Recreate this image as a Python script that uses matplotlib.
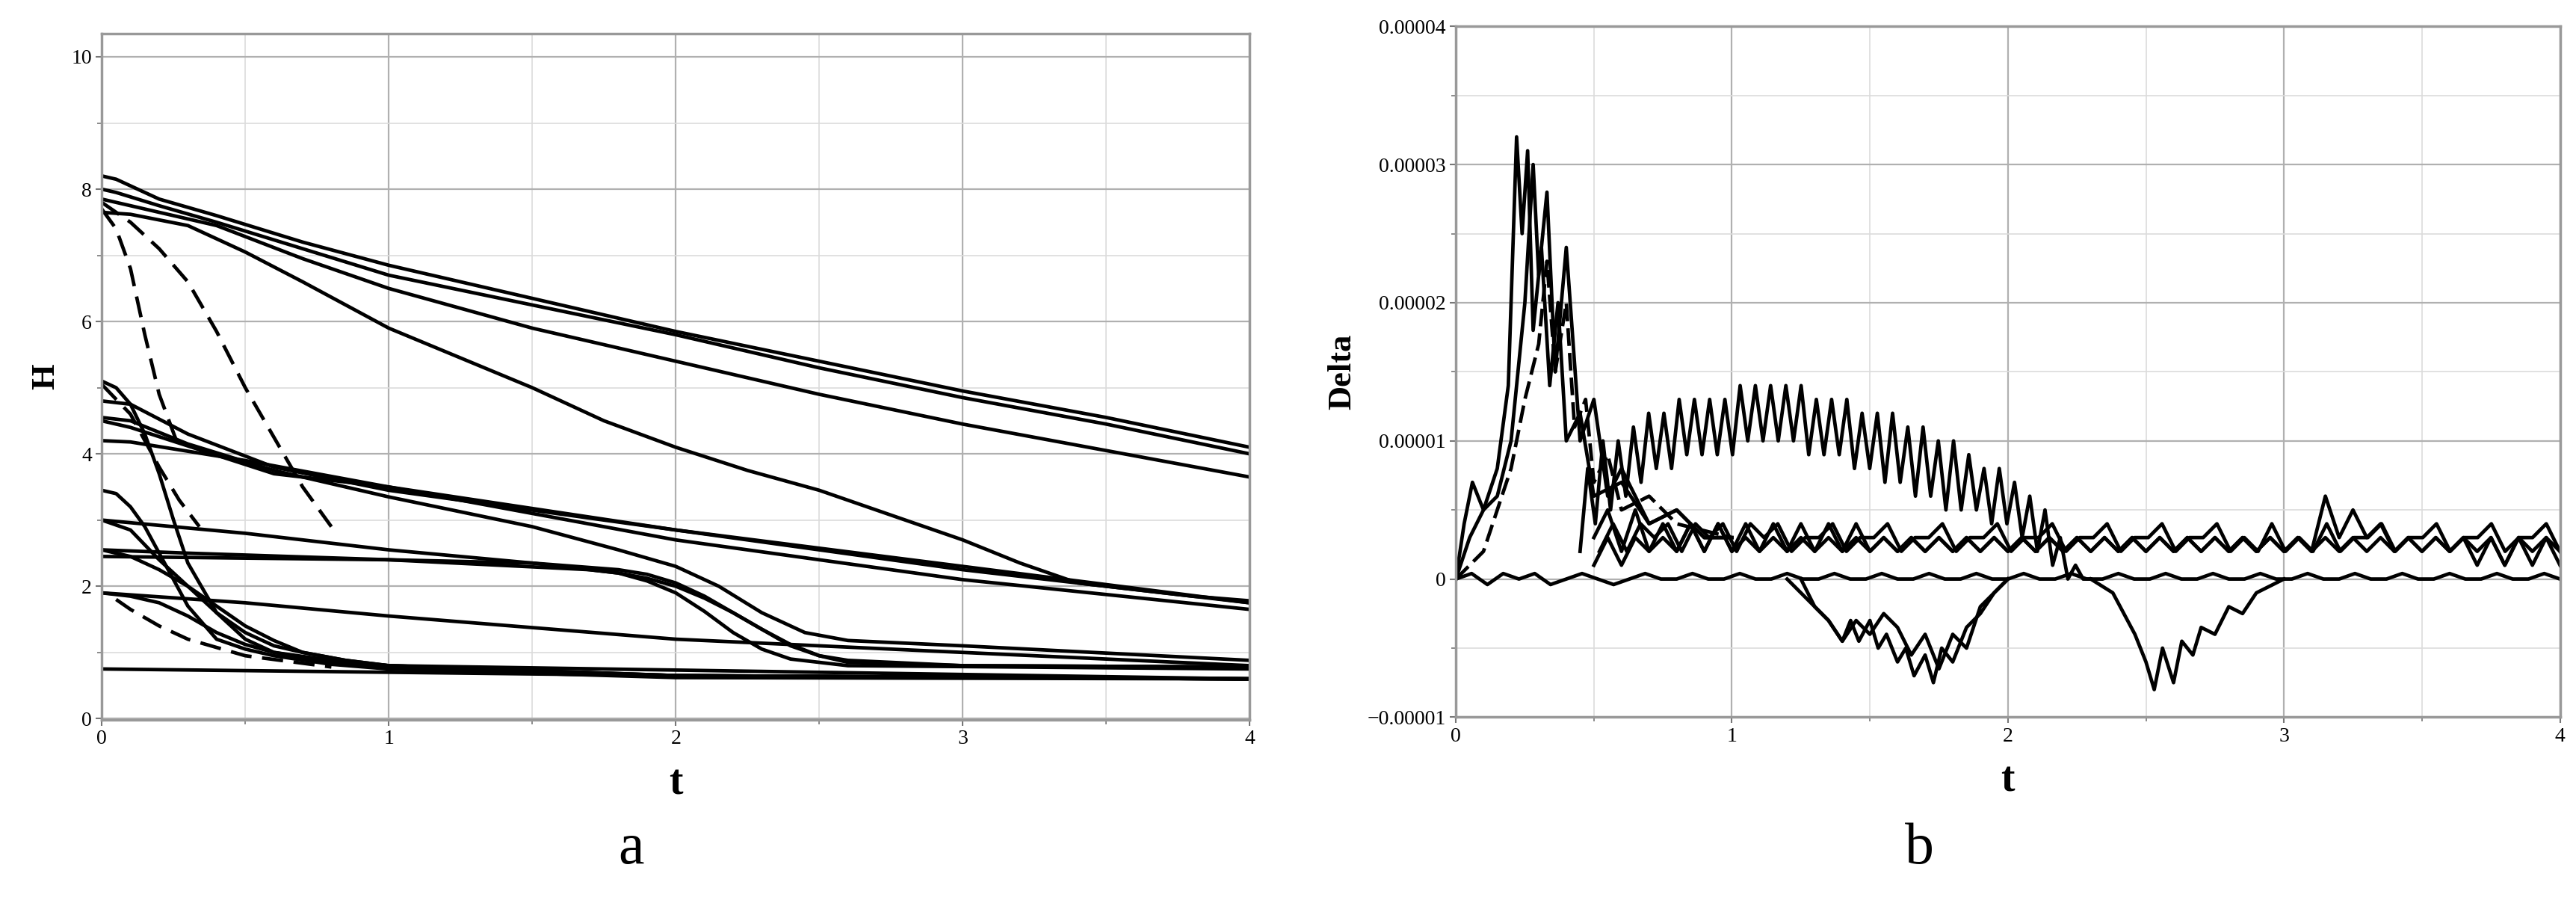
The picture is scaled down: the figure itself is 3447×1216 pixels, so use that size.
import numpy as np
import matplotlib
matplotlib.use("Agg")
import matplotlib.pyplot as plt
from matplotlib.ticker import FuncFormatter, MultipleLocator

# ---------- Panel a: H(t) curves (t, H) ----------
solid_curves = [
    ([0, 0.05, 0.2, 0.4, 0.7, 1, 1.5, 2, 2.5, 3, 3.5, 4], [8.2, 8.15, 7.85, 7.6, 7.2, 6.85, 6.35, 5.85, 5.4, 4.95, 4.55, 4.1]),
    ([0, 0.05, 0.2, 0.4, 0.7, 1, 1.5, 2, 2.5, 3, 3.5, 4], [8.0, 7.95, 7.75, 7.5, 7.1, 6.7, 6.25, 5.8, 5.3, 4.85, 4.45, 4.0]),
    ([0, 0.05, 0.2, 0.4, 0.7, 1, 1.5, 2, 2.5, 3, 3.5, 4], [7.85, 7.8, 7.65, 7.45, 6.95, 6.5, 5.9, 5.4, 4.9, 4.45, 4.05, 3.65]),
    ([0, 0.1, 0.3, 0.5, 0.7, 1, 1.25, 1.5, 1.75, 2, 2.25, 2.5, 2.8, 3.0, 3.2, 3.4, 3.6, 3.8, 4],
     [7.65, 7.62, 7.45, 7.05, 6.6, 5.9, 5.45, 5.0, 4.5, 4.1, 3.75, 3.45, 3.0, 2.7, 2.35, 2.05, 1.95, 1.85, 1.78]),
    ([0, 0.05, 0.1, 0.15, 0.2, 0.25, 0.3, 0.4, 0.5, 0.6, 0.8, 1, 2, 4], [5.1, 5.0, 4.75, 4.3, 3.7, 3.0, 2.35, 1.6, 1.2, 1.0, 0.88, 0.8, 0.65, 0.6]),
    ([0, 0.1, 0.3, 0.6, 1, 2, 3, 4], [4.8, 4.75, 4.3, 3.8, 3.45, 2.85, 2.3, 1.75]),
    ([0, 0.1, 0.3, 0.6, 1, 1.5, 1.8, 2.0, 2.15, 2.3, 2.45, 2.6, 3, 4],
     [4.55, 4.5, 4.15, 3.75, 3.35, 2.9, 2.55, 2.3, 2.0, 1.6, 1.3, 1.18, 1.1, 0.88]),
    ([0, 0.1, 0.6, 1, 2, 3, 4], [4.5, 4.4, 3.7, 3.5, 2.7, 2.1, 1.65]),
    ([0, 0.1, 0.5, 1, 2, 3, 4], [4.2, 4.18, 3.9, 3.5, 2.85, 2.25, 1.75]),
    ([0, 0.05, 0.1, 0.15, 0.2, 0.25, 0.3, 0.4, 0.5, 0.6, 0.8, 1, 2, 4], [3.45, 3.4, 3.2, 2.9, 2.5, 2.1, 1.7, 1.2, 1.05, 0.95, 0.82, 0.75, 0.62, 0.6]),
    ([0, 0.5, 1, 1.5, 1.8, 1.9, 2.0, 2.1, 2.2, 2.3, 2.4, 2.5, 2.6, 3, 4],
     [3.0, 2.8, 2.55, 2.35, 2.2, 2.12, 2.0, 1.82, 1.6, 1.35, 1.12, 0.95, 0.88, 0.8, 0.78]),
    ([0, 0.3, 1, 1.5, 1.8, 1.9, 2.0, 2.1, 2.2, 2.3, 2.4, 2.5, 2.6, 3, 4],
     [2.55, 2.5, 2.4, 2.35, 2.25, 2.18, 2.05, 1.85, 1.6, 1.35, 1.1, 0.95, 0.85, 0.8, 0.78]),
    ([0, 1, 1.7, 1.8, 1.9, 2.0, 2.1, 2.2, 2.3, 2.4, 2.6, 4], [2.45, 2.4, 2.25, 2.2, 2.08, 1.9, 1.62, 1.3, 1.05, 0.9, 0.8, 0.75]),
    ([0, 0.1, 0.2, 0.3, 0.4, 0.5, 0.6, 0.7, 0.85, 1, 2, 4], [2.55, 2.45, 2.25, 2.0, 1.7, 1.4, 1.18, 1.0, 0.88, 0.8, 0.65, 0.6]),
    ([0, 0.1, 0.2, 0.3, 0.4, 0.5, 0.6, 0.7, 0.85, 1, 4], [3.0, 2.85, 2.4, 2.0, 1.6, 1.3, 1.1, 1.0, 0.88, 0.8, 0.6]),
    ([0, 0.5, 1, 2, 3, 4], [1.9, 1.75, 1.55, 1.2, 1.0, 0.8]),
    ([0, 0.1, 0.2, 0.3, 0.4, 0.5, 0.6, 0.8, 1, 2, 4], [1.9, 1.85, 1.75, 1.55, 1.3, 1.12, 1.0, 0.85, 0.78, 0.65, 0.6]),
    ([0, 2, 4], [0.75, 0.65, 0.6]),
]
dashed_curves = [
    ([0, 0.05, 0.1, 0.15, 0.2, 0.26], [7.7, 7.4, 6.8, 5.8, 4.9, 4.2]),
    ([0, 0.1, 0.2, 0.3, 0.4, 0.5, 0.6, 0.7, 0.8], [7.8, 7.5, 7.1, 6.6, 5.85, 5.0, 4.25, 3.5, 2.9]),
    ([0, 0.1, 0.2, 0.27, 0.34], [5.05, 4.6, 3.8, 3.3, 2.9]),
    ([0.05, 0.1, 0.2, 0.3, 0.5, 0.8], [1.8, 1.65, 1.4, 1.2, 0.95, 0.78]),
]

# ---------- Panel b: Delta(t) curves, values in 1e-6 ----------
spike1_t = [0, 0.03, 0.06, 0.1, 0.15, 0.19, 0.22, 0.24, 0.26, 0.28, 0.31, 0.34, 0.37, 0.4, 0.45, 0.5, 0.6, 0.7, 0.8, 0.9, 1.0]
spike1_v = [0, 4, 7, 5, 8, 14, 32, 25, 31, 18, 24, 14, 20, 10, 12, 6, 7, 4, 5, 3, 3]
spike2_t = [0, 0.05, 0.1, 0.15, 0.2, 0.25, 0.28, 0.3, 0.33, 0.36, 0.4, 0.45, 0.5, 0.55, 0.6, 0.7, 0.8, 0.9, 1.0]
spike2_v = [0, 3, 5, 6, 10, 20, 30, 22, 28, 15, 24, 10, 13, 6, 8, 4, 5, 3, 3]
spike3_t = [0, 0.1, 0.2, 0.25, 0.3, 0.33, 0.36, 0.4, 0.43, 0.47, 0.5, 0.55, 0.6, 0.7, 0.8, 1.0]
spike3_v = [0, 2, 8, 13, 17, 23, 15, 20, 11, 13, 7, 9, 5, 6, 4, 3]
hump_v = [2, 8, 4, 10, 5, 10, 6, 11, 7, 12, 8, 12, 8, 13, 9, 13, 9, 13, 9, 13, 9, 14, 10, 14, 10,
          14, 10, 14, 10, 14, 9, 13, 9, 13, 9, 13, 8, 12, 8, 12, 7, 12, 7, 11, 6, 11, 6, 10, 5, 10,
          5, 9, 5, 8, 4, 8, 4, 7, 3, 6, 2, 5, 1, 3, 0, 1, 0, 0]
band1_v = [3, 5, 2, 5, 2, 4, 2, 4, 2, 4, 2, 4, 2, 4, 2, 4, 2, 4, 2, 4, 2, 3, 2, 3, 2, 3, 2, 3, 2, 3,
           2, 3, 2, 3, 2, 3, 2, 3, 2, 3, 2, 3, 2, 3, 2, 3, 2, 3, 2, 3, 2, 3, 2, 3, 2, 3, 2, 3, 2, 3,
           2, 3, 2, 3, 1, 3, 1, 3, 1, 3, 1]
band2_v = [1, 3, 1, 3, 2, 3, 2, 4, 2, 4, 2, 3, 2, 3, 2, 3, 2, 3, 2, 3, 2, 3, 2, 3, 2, 3, 2, 3, 2, 3,
           2, 3, 2, 3, 2, 3, 2, 3, 2, 3, 2, 3, 2, 3, 2, 3, 2, 3, 2, 3, 2, 3, 2, 6, 3, 5, 3, 4, 2, 3,
           2, 3, 2, 3, 2, 3, 1, 3, 2, 3, 2]
band3_v = [2, 4, 2, 4, 3, 4, 2, 4, 3, 4, 2, 4, 3, 4, 2, 3, 3, 4, 2, 3, 3, 4, 2, 3, 3, 4, 2, 3, 3, 4,
           2, 3, 3, 4, 2, 3, 3, 4, 2, 3, 3, 4, 2, 3, 3, 4, 2, 3, 2, 4, 2, 3, 2, 4, 2, 3, 3, 4, 2, 3,
           3, 4, 2, 3, 3, 4, 2, 3, 3, 4, 2]
zero_v = [0, 1, -1, 1, 0, 1, -1, 0, 1, 0, -1, 0, 1, 0, 0, 1, 0, 0, 1, 0, 0, 1, 0, 0, 1, 0, 0, 1, 0, 0,
          1, 0, 0, 1, 0, 0, 1, 0, 0, 1, 0, 0, 1, 0, 0, 1, 0, 0, 1, 0, 0, 1, 0, 0, 1, 0, 0, 1, 0, 0,
          1, 0, 0, 1, 0, 0, 1, 0, 0, 1, 0]
dip1_t = [1.2, 1.25, 1.3, 1.35, 1.4, 1.43, 1.46, 1.5, 1.53, 1.56, 1.6, 1.63, 1.66, 1.7, 1.73, 1.76, 1.8, 1.85, 1.9, 1.95, 2.0]
dip1_v = [0, -1, -2, -3, -4.5, -3, -4.5, -3, -5, -4, -6, -5, -7, -5.5, -7.5, -5, -6, -3.5, -2.5, -1, 0]
dip2_t = [1.25, 1.3, 1.35, 1.4, 1.45, 1.5, 1.55, 1.6, 1.65, 1.7, 1.75, 1.8, 1.85, 1.9, 2.0]
dip2_v = [0, -2, -3, -4.5, -3, -4, -2.5, -3.5, -5.5, -4, -6.5, -4, -5, -2, 0]
dip3_t = [2.3, 2.38, 2.42, 2.46, 2.5, 2.53, 2.56, 2.6, 2.63, 2.67, 2.7, 2.75, 2.8, 2.85, 2.9, 2.95, 3.0]
dip3_v = [0, -1, -2.5, -4, -6, -8, -5, -7.5, -4.5, -5.5, -3.5, -4, -2, -2.5, -1, -0.5, 0]

plt.rcParams['font.family'] = ['Liberation Serif', 'DejaVu Serif']
fig = plt.figure(figsize=(34.48, 12.16), dpi=100)
axa = fig.add_axes([0.0395, 0.208, 0.4455, 0.755])
axb = fig.add_axes([0.565, 0.211, 0.4285, 0.76])

def style(ax):
    ax.grid(which='major', color='#b0b0b0', lw=1.6)
    ax.grid(which='minor', color='#dcdcdc', lw=1.2)
    ax.set_axisbelow(True)
    for s in ax.spines.values():
        s.set_color('#999999'); s.set_linewidth(2.5)
    ax.tick_params(labelsize=20, length=6, width=1.5, color='#777')
    ax.tick_params(which='minor', length=4, width=1.2, color='#777')
    ax.xaxis.set_major_locator(MultipleLocator(1))
    ax.xaxis.set_minor_locator(MultipleLocator(0.5))
    ax.set_xlim(0, 4)
    ax.set_xlabel('t', fontsize=40, fontweight='bold', labelpad=15)

LW = 3.4
style(axa)
for t, h in solid_curves:
    axa.plot(t, h, color='black', lw=LW)
for t, h in dashed_curves:
    axa.plot(t, h, color='black', lw=LW, ls=(0, (6, 3)))
axa.set_ylim(-0.02, 10.35)
axa.yaxis.set_major_locator(MultipleLocator(2))
axa.yaxis.set_minor_locator(MultipleLocator(1))
axa.set_ylabel('H', fontsize=32, fontweight='bold', labelpad=10)

style(axb)
sc = 1e-6
axb.plot(spike1_t, np.array(spike1_v) * sc, color='black', lw=LW)
axb.plot(spike2_t, np.array(spike2_v) * sc, color='black', lw=LW)
axb.plot(spike3_t, np.array(spike3_v) * sc, color='black', lw=LW, ls=(0, (5, 2)))
axb.plot(np.linspace(0.45, 2.3, len(hump_v)), np.array(hump_v) * sc, color='black', lw=LW)
axb.plot(np.linspace(0.5, 4, len(band1_v)), np.array(band1_v) * sc, color='black', lw=LW)
axb.plot(np.linspace(0.5, 4, len(band2_v)), np.array(band2_v) * sc, color='black', lw=LW)
axb.plot(np.linspace(0.52, 4, len(band3_v)), np.array(band3_v) * sc, color='black', lw=LW)
axb.plot(np.linspace(0.0, 4, len(zero_v)), np.array(zero_v) * 0.4 * sc, color='black', lw=LW)
axb.plot(dip1_t, np.array(dip1_v) * sc, color='black', lw=LW)
axb.plot(dip2_t, np.array(dip2_v) * sc, color='black', lw=LW)
axb.plot(dip3_t, np.array(dip3_v) * sc, color='black', lw=LW)
axb.set_ylim(-1e-5, 4e-5)
axb.yaxis.set_major_locator(MultipleLocator(1e-5))
axb.yaxis.set_minor_locator(MultipleLocator(0.5e-5))
axb.yaxis.set_major_formatter(FuncFormatter(lambda v, p: '0' if abs(v) < 1e-12 else ('%.5f' % v).replace('-', '\u2212')))
axb.set_ylabel('Delta', fontsize=32, fontweight='bold', labelpad=10)

fig.text(0.245, 0.05, 'a', fontsize=56, ha='center')
fig.text(0.745, 0.05, 'b', fontsize=56, ha='center')
fig.savefig('out.png', dpi=100)
